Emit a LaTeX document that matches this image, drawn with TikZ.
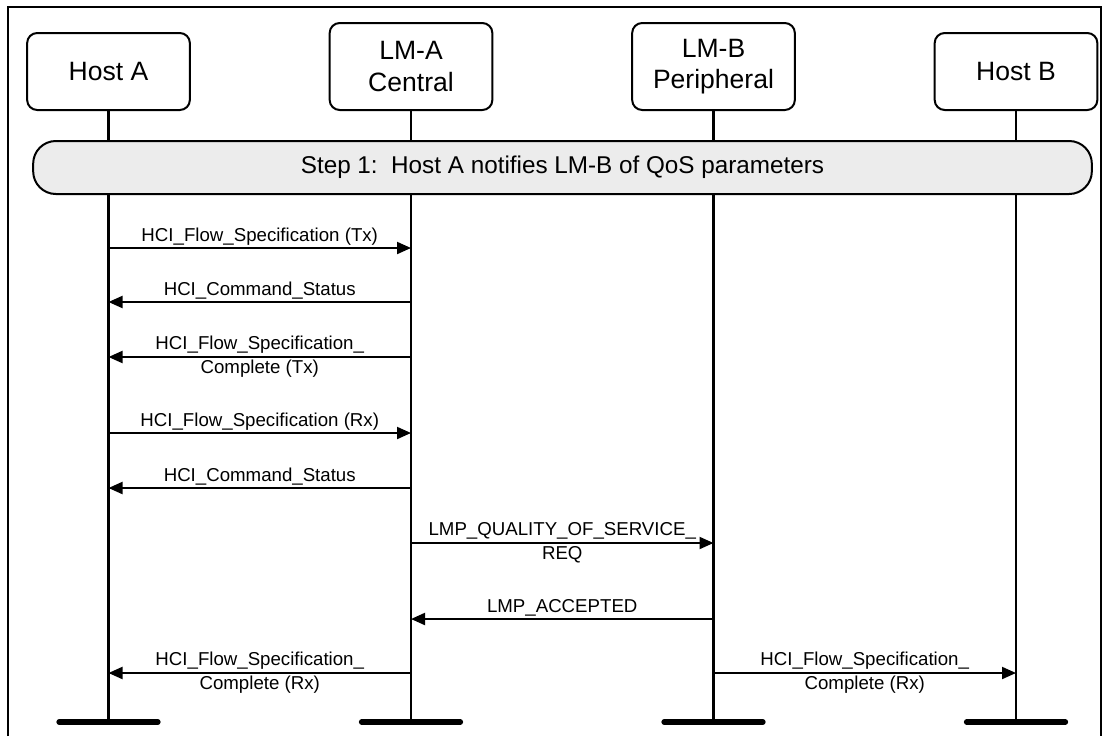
\documentclass[tikz,border=0pt]{standalone}
\usepackage{fontspec}
\setmainfont{Liberation Sans}
\usetikzlibrary{arrows.meta}
\definecolor{stepgray}{RGB}{236,236,236}
\begin{document}
\begin{tikzpicture}[x=0.75pt,y=-0.75pt,
  actor/.style={draw, line width=1.5pt, rounded corners=7.5pt, fill=white,
    minimum width=122pt, align=center, anchor=south, inner sep=0pt,
    font=\fontsize{19.9}{23.3}\selectfont},
  stepbox/.style={draw, line width=1.5pt, rounded corners=17pt, fill=stepgray,
    minimum width=794pt, minimum height=39.75pt, inner sep=0pt,
    font=\fontsize{18.2}{21}\selectfont},
  life/.style={line width=1.6pt},
  msg/.style={line width=1.5pt, -{Triangle[length=10.5pt,width=9pt]}},
  lbl/.style={midway, anchor=base, yshift=5.2pt, inner sep=0pt,
    font=\fontsize{14}{18}\selectfont},
  lbltwo/.style={midway, anchor=center, align=center, inner sep=0pt,
    font=\fontsize{14}{18}\selectfont},
  endbar/.style={line width=4.2pt, line cap=round},
]
\useasboundingbox (0,0) rectangle (1109,736);
% outer frame
\draw[line width=1.5pt] (8,736) -- (8,7) -- (1101,7) -- (1101,736);

% actors
\node[actor, minimum height=57.75pt] (hA) at (108.5,111) {Host A};
\node[actor, minimum height=65.25pt] (lA) at (411,111) {LM-A\\Central};
\node[actor, minimum height=65.25pt] (lB) at (713.5,111) {LM-B\\Peripheral};
\node[actor, minimum height=57.75pt] (hB) at (1016,111) {Host B};

% message rows and end row
\foreach \n/\y in {1/248,2/302,3/357,4/433,5/488,6/543,7/619,8/673,e/722}
  {\coordinate (r\n) at (0,\y);}

% lifelines
\foreach \a in {hA,lA,lB,hB}
  {\draw[life] (\a.south) -- (\a.south |- re);}

% step box
\node[stepbox] (step) at (562.5,167.5) {Step 1:\ \ Host A notifies LM-B of QoS parameters};

% end bars
\foreach \a in {hA,lA,lB,hB}
  {\draw[endbar] ([xshift=-37pt]\a.south |- re) -- ([xshift=37pt]\a.south |- re);}

% messages
\draw[msg] (hA.south |- r1) -- (lA.south |- r1)
  node[lbl] {HCI\_Flow\_Specification (Tx)};
\draw[msg] (lA.south |- r2) -- (hA.south |- r2)
  node[lbl] {HCI\_Command\_Status};
\draw[msg] (lA.south |- r3) -- (hA.south |- r3)
  node[lbltwo] {HCI\_Flow\_Specification\_\\Complete (Tx)};
\draw[msg] (hA.south |- r4) -- (lA.south |- r4)
  node[lbl] {HCI\_Flow\_Specification (Rx)};
\draw[msg] (lA.south |- r5) -- (hA.south |- r5)
  node[lbl] {HCI\_Command\_Status};
\draw[msg] (lA.south |- r6) -- (lB.south |- r6)
  node[lbltwo] {LMP\_QUALITY\_OF\_SERVICE\_\\REQ};
\draw[msg] (lB.south |- r7) -- (lA.south |- r7)
  node[lbl] {LMP\_ACCEPTED};
\draw[msg] (lA.south |- r8) -- (hA.south |- r8)
  node[lbltwo] {HCI\_Flow\_Specification\_\\Complete (Rx)};
\draw[msg] (lB.south |- r8) -- (hB.south |- r8)
  node[lbltwo] {HCI\_Flow\_Specification\_\\Complete (Rx)};
\end{tikzpicture}
\end{document}
